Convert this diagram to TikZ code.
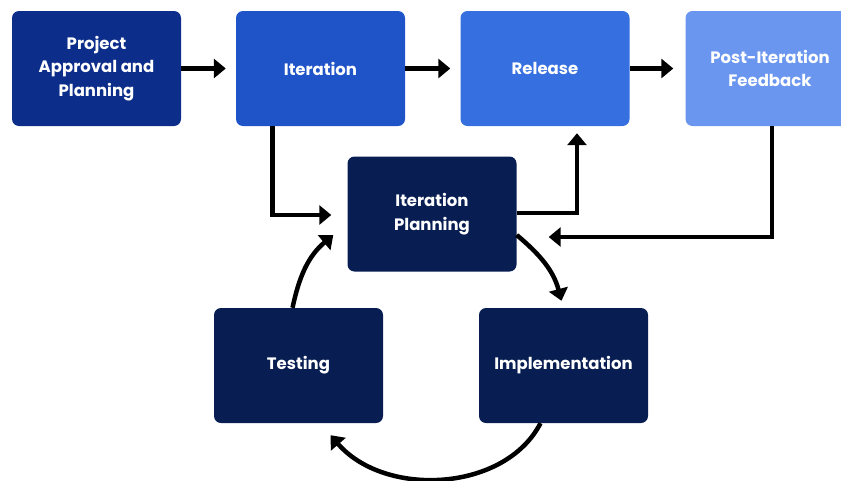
\documentclass[tikz,border=0pt]{standalone}
\usepackage{fontspec}
\setmainfont{Poppins}
\usetikzlibrary{arrows.meta}
\definecolor{cproj}{RGB}{12,46,138}
\definecolor{citer}{RGB}{31,83,200}
\definecolor{crel}{RGB}{54,111,224}
\definecolor{cpost}{RGB}{106,150,240}
\definecolor{cdark}{RGB}{8,29,82}
\tikzset{
  box/.style={rectangle, rounded corners=7pt, minimum width=169pt, minimum height=115pt,
    text=white, align=center, inner sep=2pt, font=\fontsize{16.5}{23.5}\selectfont\bfseries},
  arr/.style={line width=4.5pt, -{Triangle[length=12pt,width=19pt]}},
}
\begin{document}
\begin{tikzpicture}[x=1pt,y=-1pt]
\useasboundingbox (0,0) rectangle (841,480);
\clip (0,0) rectangle (841,480);
\node[box, fill=cproj] (proj) at (96.5,68.5) {Project\\Approval and\\Planning};
\node[box, fill=citer] (iter) at (320.5,68.5) {Iteration};
\node[box, fill=crel] (rel) at (545,68.5) {Release};
\node[box, fill=cpost] (post) at (770,68.5) {Post-Iteration\\Feedback};
\node[box, fill=cdark] (plan) at (432,214) {Iteration\\Planning};
\node[box, fill=cdark] (test) at (298.5,365.5) {Testing};
\node[box, fill=cdark] (impl) at (563.5,365.5) {Implementation};

\draw[arr, shorten >=10pt] (proj) -- (iter);
\draw[arr, shorten >=10pt] (iter) -- (rel);
\draw[arr, shorten >=12pt] (rel) -- (post);
\draw[arr, shorten >=16pt] ([xshift=-48pt]iter.south) |- ([yshift=-1pt]plan.west);
\draw[arr, shorten >=7pt] ([yshift=1pt]plan.east) -| ([xshift=32pt]rel.south);
\draw[arr, shorten >=32pt] ([xshift=2pt]post.south) |- ([yshift=-23pt]plan.east);
\draw[arr] ([yshift=-21pt]plan.east) to[out=-40,in=105] ([xshift=-2pt,yshift=7pt]impl.north);
\draw[arr] ([xshift=-23pt]impl.south) .. controls (505,492) and (385,498) .. ([xshift=32pt,yshift=-12pt]test.south);
\draw[arr] ([xshift=-6pt]test.north) to[out=78,in=220] ([xshift=-14pt,yshift=-21pt]plan.west);
\end{tikzpicture}
\end{document}
